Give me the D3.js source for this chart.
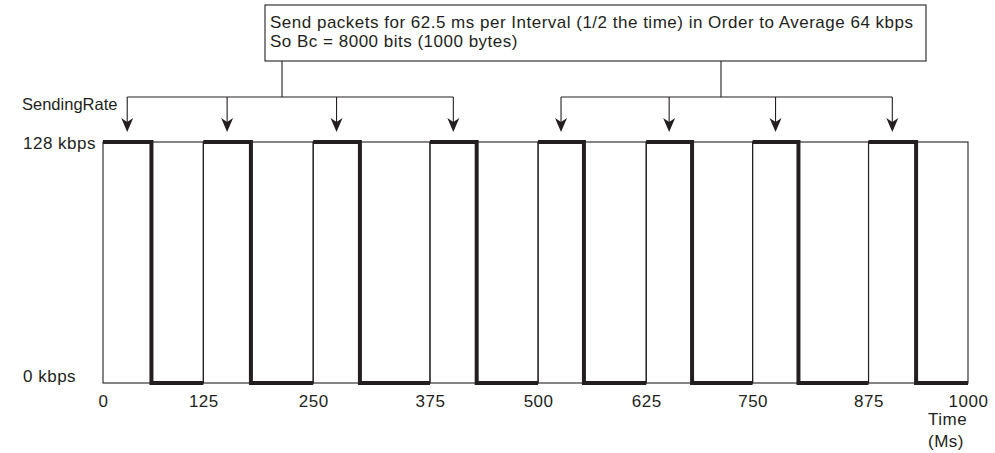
<!DOCTYPE html>
<html>
<head>
<meta charset="utf-8">
<script src="https://cdn.jsdelivr.net/npm/d3@7"></script>
<style>
  body { margin: 0; background: #fff; }
  svg text { font-family: "Liberation Sans", Arial, Helvetica, sans-serif; fill: #231f20; letter-spacing: 0.5px; }
</style>
</head>
<body>
<svg id="chart"></svg>
<script>
// values (ms on the time axis, kbps on the rate axis)
const timeLabels = ["0", "125", "250", "375", "500", "625", "750", "875", "1000"];
const intervalBounds = [0, 116, 243, 378, 503, 628, 751, 885, 1000];
const sendEnds = [56, 171, 297, 432, 556, 681, 804, 940];
const rateTicks = [0, 128];
const peakRate = 128;
const noteLines = [
  "Send packets for 62.5 ms per Interval (1/2 the time) in Order to Average 64 kbps",
  "So Bc = 8000 bits (1000 bytes)"
];
const arrowGroups = [[0, 1, 2, 3], [4, 5, 6, 7]];

const width = 995, height = 453;
const ink = "#231f20";
const fontSize = 17;

const svg = d3.select("#chart")
  .attr("width", width)
  .attr("height", height);

const x = d3.scaleLinear().domain([0, 1000]).range([103, 968]);
const y = d3.scaleLinear().domain([0, peakRate]).range([383, 142]);

// thin outline for every interval
const intervals = d3.range(sendEnds.length).map(i => ({
  start: intervalBounds[i],
  stop: sendEnds[i],
  end: intervalBounds[i + 1]
}));

svg.append("g")
  .selectAll("rect")
  .data(intervals)
  .join("rect")
  .attr("x", d => x(d.start))
  .attr("y", y(peakRate))
  .attr("width", d => x(d.end) - x(d.start))
  .attr("height", y(0) - y(peakRate))
  .attr("fill", "none")
  .attr("stroke", ink)
  .attr("stroke-width", 1.1);

// thick line: sending at 128 kbps, then dropping to 0
svg.append("g")
  .selectAll("path")
  .data(intervals)
  .join("path")
  .attr("d", d => `M${x(d.start)},${y(peakRate)}H${x(d.stop)}V${y(0)}H${x(d.end)}`)
  .attr("fill", "none")
  .attr("stroke", ink)
  .attr("stroke-width", 4)
  .attr("stroke-linejoin", "miter")
  .attr("stroke-linecap", "butt");

// x axis labels
const xAxis = svg.append("g")
  .attr("transform", `translate(0,${y(0)})`)
  .call(d3.axisBottom(x)
    .tickValues(intervalBounds)
    .tickFormat((d, i) => timeLabels[i])
    .tickSize(0)
    .tickPadding(12));
xAxis.select(".domain").remove();
xAxis.selectAll("text")
  .attr("font-size", fontSize)
  .attr("font-family", null)
  .attr("fill", ink);

svg.append("text")
  .attr("x", 928).attr("y", 425)
  .attr("font-size", fontSize)
  .text("Time");
svg.append("text")
  .attr("x", 928).attr("y", 447)
  .attr("font-size", fontSize)
  .text("(Ms)");

// y axis labels, left aligned
const yAxis = svg.append("g")
  .attr("transform", `translate(${x(0)},0)`)
  .call(d3.axisLeft(y)
    .tickValues(rateTicks)
    .tickFormat(d => d + " kbps")
    .tickSize(0));
yAxis.select(".domain").remove();
yAxis.selectAll("text")
  .attr("font-size", fontSize)
  .attr("font-family", null)
  .attr("fill", ink)
  .attr("text-anchor", "start")
  .attr("x", 23 - x(0))
  .attr("dy", d => d === 0 ? "-0.1em" : "0.36em");

svg.append("text")
  .attr("x", 22).attr("y", 110)
  .attr("font-size", 16.5)
  .style("letter-spacing", "0px")
  .text("SendingRate");

// annotation box
const box = {x: 265, y: 5, w: 661, h: 56};
svg.append("rect")
  .attr("x", box.x).attr("y", box.y)
  .attr("width", box.w).attr("height", box.h)
  .attr("fill", "#fff")
  .attr("stroke", ink)
  .attr("stroke-width", 1.1);
svg.append("g")
  .selectAll("text")
  .data(noteLines)
  .join("text")
  .attr("x", box.x + 5)
  .attr("y", (d, i) => 28 + i * 19)
  .attr("font-size", fontSize)
  .text(d => d);

// brackets and arrows pointing at each send period
const bracketY = 97, tipY = 132;
const stemX = [282, 721];
const mid = i => x((intervals[i].start + intervals[i].stop) / 2);

arrowGroups.forEach((grp, g) => {
  const xs = grp.map(mid);
  svg.append("path")
    .attr("d", `M${stemX[g]},${box.y + box.h}V${bracketY}M${d3.min(xs)},${bracketY}H${d3.max(xs)}`)
    .attr("fill", "none")
    .attr("stroke", ink)
    .attr("stroke-width", 1.1);
  xs.forEach(ax => {
    svg.append("line")
      .attr("x1", ax).attr("x2", ax)
      .attr("y1", bracketY).attr("y2", tipY - 6)
      .attr("stroke", ink)
      .attr("stroke-width", 1.1);
    svg.append("path")
      .attr("d", `M${ax},${tipY}L${ax - 6},${tipY - 14}L${ax},${tipY - 10}L${ax + 6},${tipY - 14}Z`)
      .attr("fill", ink);
  });
});
</script>
</body>
</html>
